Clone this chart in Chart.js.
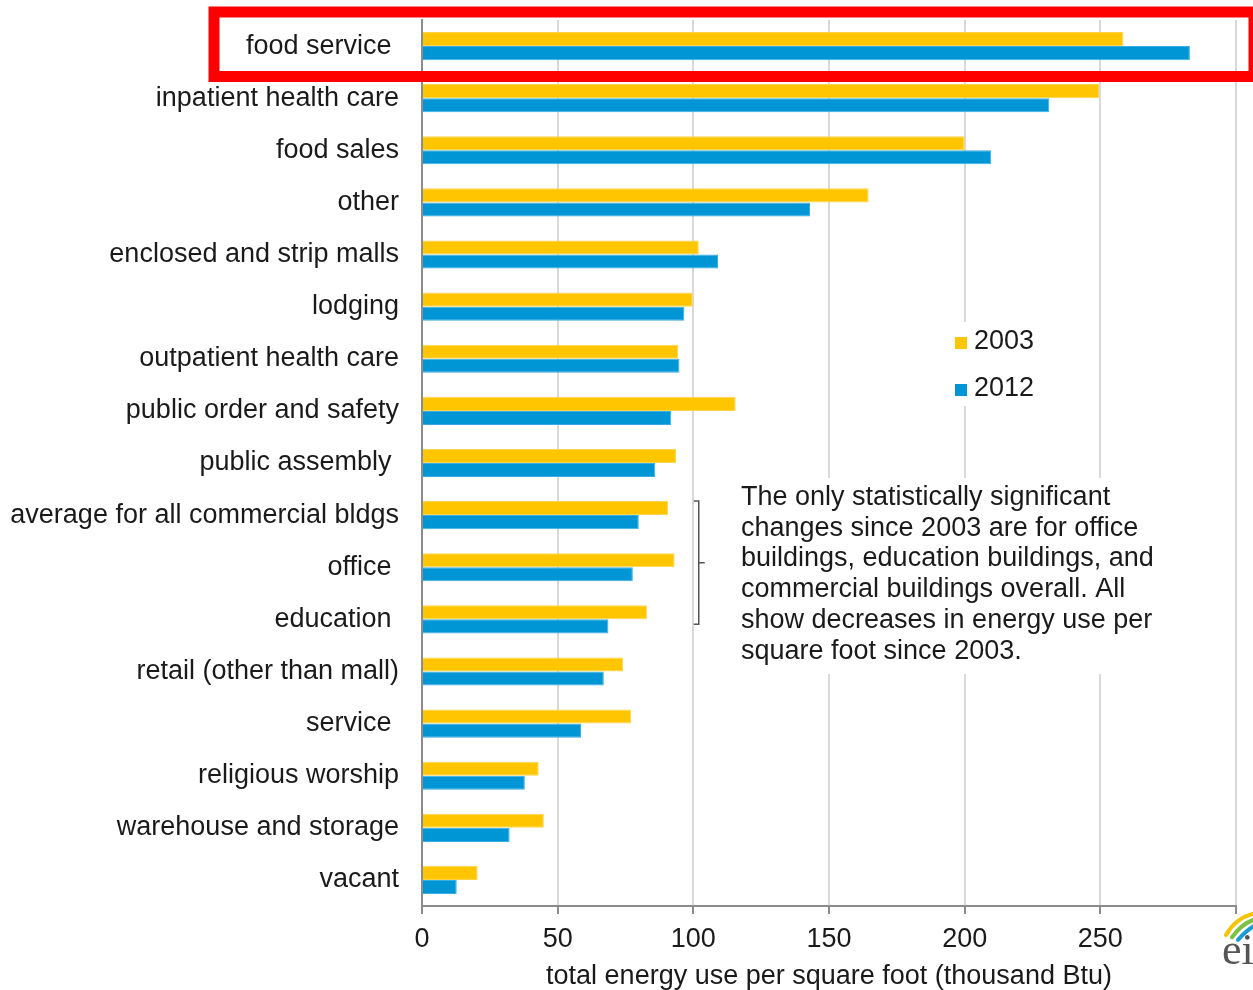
<!DOCTYPE html>
<html>
<head>
<meta charset="utf-8">
<script src="https://cdn.jsdelivr.net/npm/chart.js@4.4.1/dist/chart.umd.min.js"></script>
<style>
    html, body { margin: 0; padding: 0; background: #fff; }
    #wrap { width: 1253px; height: 990px; position: relative; }
</style>
</head>
<body>
<div id="wrap"><canvas id="chart" width="1253" height="990"></canvas></div>
<script>
// Categories (top to bottom); some labels carry a trailing space as in the source
const categories = [
    "food service ",
    "inpatient health care",
    "food sales",
    "other",
    "enclosed and strip malls",
    "lodging",
    "outpatient health care",
    "public order and safety",
    "public assembly ",
    "average for all commercial bldgs",
    "office ",
    "education ",
    "retail (other than mall)",
    "service ",
    "religious worship",
    "warehouse and storage",
    "vacant",
];

// thousand Btu per square foot
const values2003 = [258.5, 249.5, 200, 164.6, 102, 99.8, 94.4, 115.6, 93.6, 90.7, 93.1, 82.9, 74.1, 77.1, 43, 44.9, 20.5];
const values2012 = [283, 231.2, 209.8, 143, 109.1, 96.7, 94.9, 91.9, 86, 79.9, 77.7, 68.7, 67, 58.6, 37.9, 32.3, 12.8];

const xTickLabels = [0, 50, 100, 150, 200, 250];

const seriesNames = ["2003", "2012"];
const seriesColors = ["#FFC600", "#0096D6"];
const seriesBorders = ["#FFD44A", "#3AAEE0"];

const noteLines = [
    "The only statistically significant",
    "changes since 2003 are for office",
    "buildings, education buildings, and",
    "commercial buildings overall. All",
    "show decreases in energy use per",
    "square foot since 2003.",
];

const FONT = "'Liberation Sans', Arial, sans-serif";
const FONT_SIZE = 27;
const TEXT = "#1a1a1a";

const overlayPlugin = {
    id: "overlay",
    afterDraw(chart) {
        const ctx = chart.ctx;
        const x = chart.scales.x;
        const y = chart.scales.y;
        ctx.save();

        // legend box (covers gridlines)
        ctx.fillStyle = "#fff";
        ctx.fillRect(948, 322, 100, 84);
        ctx.font = FONT_SIZE + "px " + FONT;
        ctx.textBaseline = "alphabetic";
        ctx.textAlign = "left";
        seriesNames.forEach((name, i) => {
            const top = 337 + i * 47;
            ctx.fillStyle = seriesColors[i];
            ctx.fillRect(955, top, 12, 12);
            ctx.fillStyle = TEXT;
            ctx.fillText(name, 974, top + 12);
        });

        // note text box
        ctx.fillStyle = "#fff";
        ctx.fillRect(733, 478, 440, 196);
        ctx.fillStyle = TEXT;
        noteLines.forEach((line, i) => {
            ctx.fillText(line, 741, 505 + i * 30.7);
        });

        // bracket next to average / office / education
        const bTop = y.getPixelForValue(9) - 14;
        const bBot = y.getPixelForValue(11) + 5;
        const bx = x.getPixelForValue(102);
        ctx.strokeStyle = "#555";
        ctx.lineWidth = 1.5;
        ctx.beginPath();
        ctx.moveTo(bx - 5, bTop);
        ctx.lineTo(bx, bTop);
        ctx.lineTo(bx, bBot);
        ctx.lineTo(bx - 5, bBot);
        ctx.moveTo(bx, (bTop + bBot) / 2);
        ctx.lineTo(bx + 6, (bTop + bBot) / 2);
        ctx.stroke();

        // red highlight frame
        ctx.strokeStyle = "#ff0000";
        ctx.lineWidth = 11;
        ctx.strokeRect(214, 12, 1040, 64.5);

        // eia logo (partly cut off)
        ctx.lineWidth = 4;
        ctx.lineCap = "round";
        [["#f5c400", 0], ["#7cc242", 6], ["#1a9bd7", 12]].forEach(([c, d]) => {
            ctx.strokeStyle = c;
            ctx.beginPath();
            ctx.moveTo(1226 + d, 935 + d * 0.4);
            ctx.quadraticCurveTo(1236 + d, 917 + d, 1256, 913 + d);
            ctx.stroke();
        });
        ctx.fillStyle = "#555";
        ctx.font = "44px 'Liberation Serif', 'Times New Roman', serif";
        ctx.fillText("eia", 1222, 964);

        ctx.restore();
    },
};

new Chart(document.getElementById("chart"), {
    type: "bar",
    data: {
        labels: categories,
        datasets: seriesNames.map((name, i) => ({
            label: name,
            data: i === 0 ? values2003 : values2012,
            backgroundColor: seriesColors[i],
            borderColor: seriesBorders[i],
            borderWidth: 1,
            categoryPercentage: 0.54,
            barPercentage: 1.0,
        })),
    },
    options: {
        indexAxis: "y",
        responsive: false,
        devicePixelRatio: 1,
        animation: false,
        layout: { padding: { top: 20, right: 17, left: 0, bottom: 0 } },
        plugins: {
            legend: { display: false },
            tooltip: { enabled: false },
        },
        scales: {
            x: {
                min: 0,
                max: 300,
                ticks: {
                    stepSize: 50,
                    padding: 9,
                    color: TEXT,
                    font: { family: FONT, size: FONT_SIZE },
                    callback: (v) => (xTickLabels.includes(v) ? String(v) : ""),
                },
                grid: {
                    color: "#d9d9d9",
                    lineWidth: 2,
                    tickColor: "#8c8c8c",
                    tickLength: 8,
                },
                border: { color: "#8c8c8c", width: 2 },
                title: {
                    display: true,
                    text: "total energy use per square foot (thousand Btu)",
                    color: TEXT,
                    font: { family: FONT, size: FONT_SIZE },
                    padding: { top: 0, bottom: -3 },
                },
                afterFit: (s) => {
                    s.height = 84;
                    s.paddingLeft = 0;
                    s.paddingRight = 0;
                },
            },
            y: {
                grid: { display: false, drawTicks: false },
                border: { display: true, color: "#8c8c8c", width: 2 },
                ticks: {
                    padding: 23,
                    color: TEXT,
                    font: { family: FONT, size: FONT_SIZE },
                },
                afterFit: (s) => {
                    s.width = 422;
                    s.paddingTop = 0;
                    s.paddingBottom = 0;
                },
            },
        },
    },
    plugins: [overlayPlugin],
});
</script>
</body>
</html>
